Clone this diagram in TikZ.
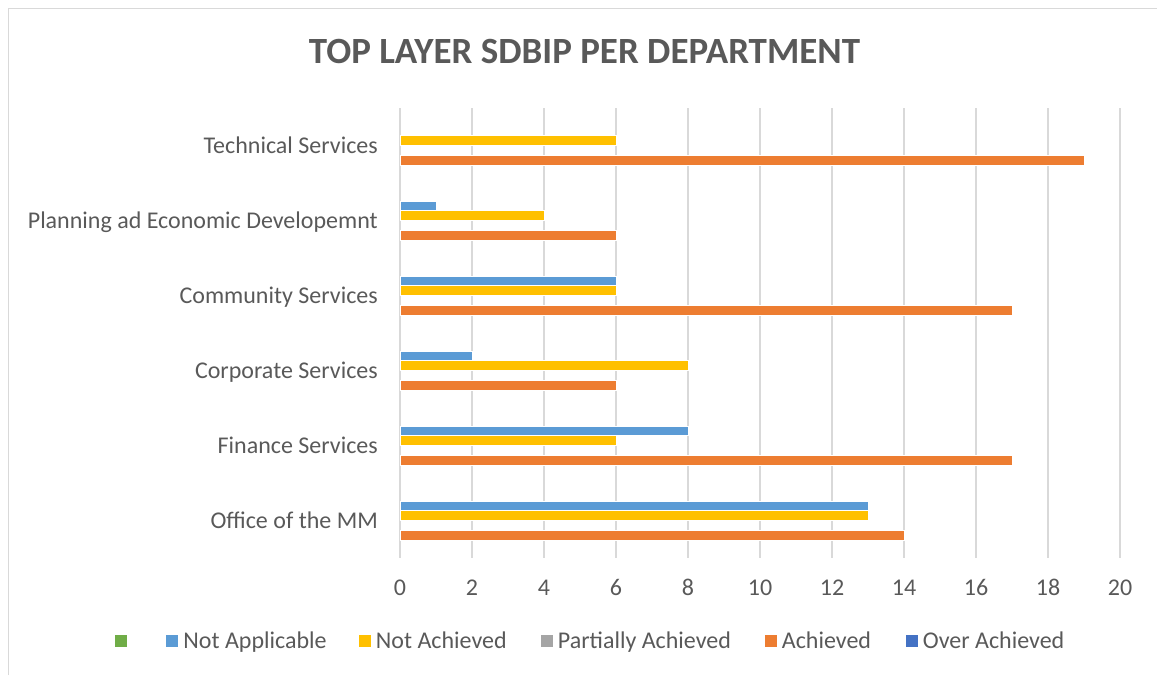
\documentclass[tikz,border=0pt]{standalone}
\usepackage{fontspec}
\setmainfont{Carlito}
\usepackage{tikz}
\usetikzlibrary{positioning}
\definecolor{textgray}{HTML}{595959}
\definecolor{gridgray}{HTML}{D9D9D9}
\definecolor{notapplicable}{HTML}{5B9BD5}
\definecolor{notachieved}{HTML}{FFC000}
\definecolor{partially}{HTML}{A5A5A5}
\definecolor{achieved}{HTML}{ED7D31}
\definecolor{overachieved}{HTML}{4472C4}
\definecolor{blankseries}{HTML}{70AD47}
\tikzset{
  charttitle/.style={
    font=\fontsize{37}{40}\selectfont\bfseries, text=textgray,
    inner sep=0pt, text height=23.8pt, text depth=0pt,
  },
  catlabel/.style={
    anchor=east, font=\fontsize{24}{28}\selectfont, text=textgray,
    inner sep=0pt, text height=15.5pt, text depth=0pt,
  },
  ticklabel/.style={
    font=\fontsize{24}{28}\selectfont, text=textgray,
    inner sep=0pt, text height=15.5pt, text depth=0pt,
  },
  legendtext/.style={
    anchor=west, font=\fontsize{24}{28}\selectfont, text=textgray,
    inner sep=0pt, text height=15.5pt, text depth=0pt,
  },
  legendkey/.style={minimum size=12pt, inner sep=0pt},
  gridline/.style={draw=gridgray, line width=2pt},
  frame/.style={draw=gridgray, line width=1.5pt},
  bar/.style={draw=white, line width=0.6pt},
}

\begin{document}
\begin{tikzpicture}[x=1pt, y=-1pt]

  \useasboundingbox (0,0) rectangle (1157,675);
  \draw[frame] (8.5,675) -- (8.5,8.5) -- (1157,8.5);

  \node[charttitle] (title) at (584.5,52) {TOP LAYER SDBIP PER DEPARTMENT};

  \foreach \v in {0,2,...,20} {
    \draw[gridline] (400+36*\v,108) -- (400+36*\v,558);
    \node[ticklabel] (tick\v) at (400+36*\v,588) {\v};
  }

  \def\t{9.8}
  \foreach \lbl/\na/\nach/\ach [count=\i from 0] in {
      Technical Services/0/6/19,
      Planning ad Economic Developemnt/1/4/6,
      Community Services/6/6/17,
      Corporate Services/2/8/6,
      Finance Services/8/6/17,
      Office of the MM/13/13/14} {
    \pgfmathsetmacro{\yc}{145.5+75*\i}
    \node[catlabel] (cat\i) at (378,\yc) {\lbl};
    \ifnum\na>0
      \path[bar, fill=notapplicable] (400,\yc-2*\t) rectangle (400+36*\na,\yc-\t);
    \fi
    \path[bar, fill=notachieved] (400,\yc-\t) rectangle (400+36*\nach,\yc);
    \path[bar, fill=achieved] (400,\yc+\t) rectangle (400+36*\ach,\yc+2*\t);
  }

  \node[legendkey, fill=blankseries] (keyblank) at (120.5,641) {};
  \node[legendkey, fill=notapplicable] (keyna) at (172,641) {};
  \node[legendtext, right=5pt of keyna] (txtna) {Not Applicable};
  \node[legendkey, fill=notachieved] (keynach) at (364.5,641) {};
  \node[legendtext, right=5pt of keynach] (txtnach) {Not Achieved};
  \node[legendkey, fill=partially] (keypart) at (546.5,641) {};
  \node[legendtext, right=5pt of keypart] (txtpart) {Partially Achieved};
  \node[legendkey, fill=achieved] (keyach) at (770.5,641) {};
  \node[legendtext, right=5pt of keyach] (txtach) {Achieved};
  \node[legendkey, fill=overachieved] (keyover) at (911.5,641) {};
  \node[legendtext, right=5pt of keyover] (txtover) {Over Achieved};

\end{tikzpicture}
\end{document}
